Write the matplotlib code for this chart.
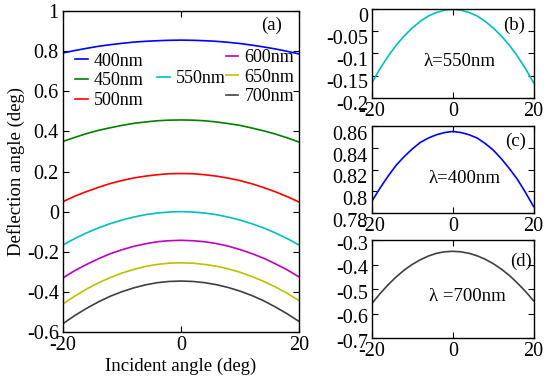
import matplotlib
matplotlib.use("Agg")
import matplotlib.pyplot as plt
from matplotlib.ticker import FuncFormatter
import matplotlib.transforms as mtransforms

plt.rcParams['font.family'] = ['Liberation Serif', 'DejaVu Serif']
plt.rcParams['axes.unicode_minus'] = False

# ---- data ----
angles = [-20, -18, -16, -14, -12, -10, -8, -6, -4, -2, 0,
          2, 4, 6, 8, 10, 12, 14, 16, 18, 20]
wavelengths = ["400nm", "450nm", "500nm", "550nm", "600nm", "650nm", "700nm"]
d400 = [0.791, 0.803, 0.814, 0.824, 0.832, 0.839, 0.845, 0.849, 0.852, 0.854, 0.855,
        0.854, 0.852, 0.849, 0.844, 0.838, 0.830, 0.821, 0.811, 0.799, 0.786]
d450 = [0.350, 0.370, 0.389, 0.405, 0.418, 0.430, 0.440, 0.447, 0.453, 0.456, 0.457,
        0.456, 0.453, 0.447, 0.439, 0.430, 0.417, 0.403, 0.387, 0.368, 0.347]
d500 = [0.050, 0.077, 0.100, 0.121, 0.140, 0.155, 0.168, 0.177, 0.184, 0.189, 0.190,
        0.189, 0.184, 0.177, 0.167, 0.155, 0.139, 0.120, 0.099, 0.075, 0.048]
d550 = [-0.166, -0.134, -0.106, -0.081, -0.060, -0.042, -0.027, -0.015, -0.007, -0.002, 0.000,
        -0.002, -0.007, -0.015, -0.027, -0.042, -0.060, -0.081, -0.106, -0.134, -0.166]
d600 = [-0.330, -0.294, -0.263, -0.235, -0.210, -0.190, -0.173, -0.160, -0.150, -0.145, -0.143,
        -0.145, -0.150, -0.159, -0.172, -0.189, -0.209, -0.232, -0.260, -0.290, -0.325]
d650 = [-0.460, -0.421, -0.386, -0.355, -0.329, -0.306, -0.288, -0.273, -0.263, -0.257, -0.255,
        -0.257, -0.263, -0.272, -0.285, -0.302, -0.323, -0.347, -0.375, -0.407, -0.443]
d700 = [-0.558, -0.518, -0.482, -0.450, -0.422, -0.399, -0.380, -0.365, -0.354, -0.348, -0.346,
        -0.348, -0.354, -0.364, -0.378, -0.396, -0.418, -0.444, -0.475, -0.509, -0.547]
series = [d400, d450, d500, d550, d600, d650, d700]
colors = ['#0000ff', '#008000', '#ff0000', '#00bfbf', '#bf00bf', '#bfbf00', '#404040']

main_yticks = [-0.6, -0.4, -0.2, 0, 0.2, 0.4, 0.6, 0.8, 1]
xticks = [-20, 0, 20]
b_yticks = [-0.2, -0.15, -0.1, -0.05, 0]
c_yticks = [0.78, 0.8, 0.82, 0.84, 0.86]
d_yticks = [-0.7, -0.6, -0.5, -0.4, -0.3]

FS = 13.5
TFS = 14.5
fmt = FuncFormatter(lambda v, p: "%g" % round(v, 4))

def style(ax):
    ax.tick_params(direction='in', length=4, width=0.8, top=True, right=True,
                   labelsize=TFS, pad=3)
    for s in ax.spines.values():
        s.set_linewidth(1.0)
    ax.xaxis.set_major_formatter(fmt)
    ax.yaxis.set_major_formatter(fmt)

fig = plt.figure(figsize=(5.5, 3.76), dpi=100)

# main panel
ax = fig.add_axes([0.1145, 0.117, 0.429, 0.8537])
lines = []
for ys, c, lab in zip(series, colors, wavelengths):
    ln, = ax.plot(angles, ys, color=c, lw=1.2, label=lab)
    lines.append(ln)
ax.set_xlim(-20, 20)
ax.set_ylim(-0.6, 1)
ax.set_xticks(xticks)
ax.set_yticks(main_yticks)
style(ax)
ax.set_xlabel("Incident angle (deg)", fontsize=FS, labelpad=2)
ax.set_ylabel("Deflection angle (deg)", fontsize=FS, labelpad=1)
ax.text(0.886, 0.956, "(a)", transform=ax.transAxes, fontsize=FS,
        ha='center', va='center')

legkw = dict(loc='upper left', frameon=False, fontsize=13, handlelength=0.7,
             handletextpad=0.33, labelspacing=0.15, borderpad=0, borderaxespad=0)
leg1 = ax.legend(handles=lines[0:3], bbox_to_anchor=(0.051, 0.870), **legkw)
ax.add_artist(leg1)
leg2 = ax.legend(handles=lines[3:4], bbox_to_anchor=(0.398, 0.815), **legkw)
ax.add_artist(leg2)
leg3 = ax.legend(handles=lines[4:7], bbox_to_anchor=(0.69, 0.882), **legkw)

# inset panels
insets = [
    ([0.6764, 0.7402, 0.2936, 0.2351], d550, colors[3], b_yticks, "(b)", (0.879, 0.822),
     "λ=550nm", (0.543, 0.407), 4),
    ([0.6764, 0.4335, 0.2936, 0.2314], d400, colors[0], c_yticks, "(c)", (0.891, 0.82),
     "λ=400nm", (0.575, 0.399), 5),
    ([0.6764, 0.1003, 0.2936, 0.2614], d700, colors[6], d_yticks, "(d)", (0.92, 0.779),
     "λ =700nm", (0.591, 0.43), 2),
]
for rect, ys, c, yt, tag, tagpos, lam, lampos, shift in insets:
    a = fig.add_axes(rect)
    a.plot(angles, ys, color=c, lw=1.2)
    a.set_xlim(-20, 20)
    a.set_ylim(yt[0], yt[-1])
    a.set_xticks(xticks)
    a.set_yticks(yt)
    style(a)
    off = mtransforms.ScaledTranslation(0, -shift / 72, fig.dpi_scale_trans)
    for lbl in a.get_yticklabels():
        lbl.set_transform(lbl.get_transform() + off)
    a.text(tagpos[0], tagpos[1], tag, transform=a.transAxes, fontsize=FS,
           ha='center', va='center')
    a.text(lampos[0], lampos[1], lam, transform=a.transAxes, fontsize=FS,
           ha='center', va='center')

fig.savefig("out.png", dpi=100)
